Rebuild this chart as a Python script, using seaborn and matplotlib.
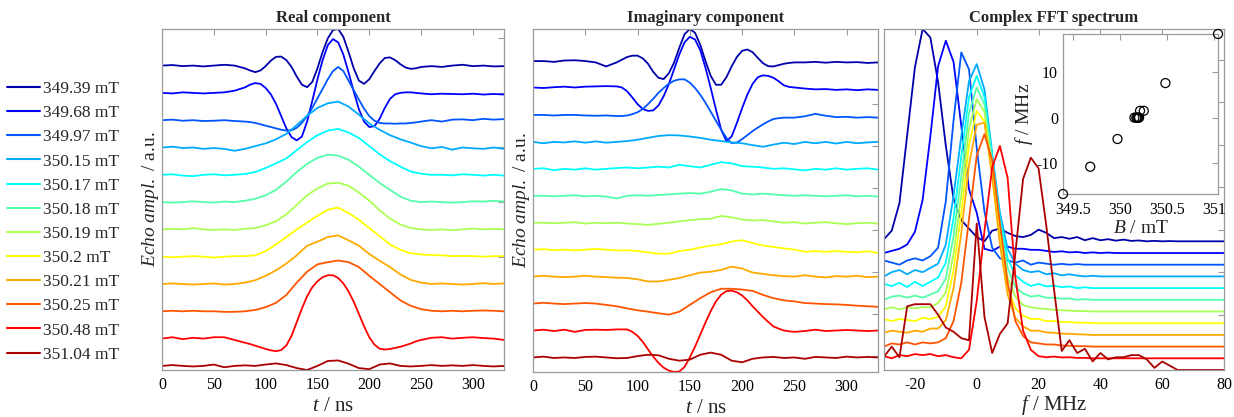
import numpy as np
import pandas as pd
import matplotlib
matplotlib.use("Agg")
import matplotlib.pyplot as plt
import seaborn as sns
from matplotlib.lines import Line2D

# ---------------- data ----------------
field_labels = ["349.39 mT", "349.68 mT", "349.97 mT", "350.15 mT", "350.17 mT", "350.18 mT",
                "350.19 mT", "350.2 mT", "350.21 mT", "350.25 mT", "350.48 mT", "351.04 mT"]
field_mT = [349.39, 349.68, 349.97, 350.15, 350.17, 350.18, 350.19, 350.2, 350.21, 350.25, 350.48, 351.04]
peak_f_MHz = [-16.8, -10.8, -4.7, 0.0, 0.0, 0.0, 0.0, 0.0, 1.5, 1.5, 7.6, 18.4]

# time axis (coarse, 10 ns) and a finer axis read around the echo for the fast-oscillating traces
t_ns = [0, 10, 20, 30, 40, 50, 60, 70, 80, 90, 100, 110, 120, 130, 140, 150, 160,
        170, 180, 190, 200, 210, 220, 230, 240, 250, 260, 270, 280, 290, 300, 310, 320, 330]
t_fine_ns = [0, 10, 20, 30, 40, 50, 60, 70,
             80, 85, 90, 95, 100, 105, 110, 115, 120, 125, 130, 135, 140, 145, 150, 155, 160, 165,
             170, 175, 180, 185, 190, 195, 200, 205, 210, 215, 220, 225, 230, 235, 240, 245, 250,
             260, 270, 280, 290, 300, 310, 320, 330]

real_349_39 = [0.0, 0.02, -0.02, 0.0, -0.03, 0.0, 0.03, 0.0,
               -0.1, -0.18, -0.24, -0.18, -0.02, 0.18, 0.32, 0.33, 0.2, -0.05, -0.4, -0.7, -0.79, -0.6, -0.1,
               0.5, 1.0, 1.3, 1.34, 1.05, 0.5, -0.1, -0.55, -0.67, -0.5, -0.2, 0.08, 0.28, 0.3, 0.2, 0.05,
               -0.07, -0.12, -0.1, -0.05,
               -0.02, -0.05, 0.0, 0.03, -0.02, 0.0, -0.03, -0.02]
real_349_68 = [0.0, -0.02, 0.02, 0.0, -0.02, 0.0, 0.02, 0.08,
               0.2, 0.3, 0.36, 0.33, 0.18, -0.05, -0.4, -0.85, -1.3, -1.62, -1.74, -1.6, -1.05, -0.3, 0.5,
               1.2, 1.75, 1.97, 1.85, 1.4, 0.75, 0.05, -0.6, -1.05, -1.25, -1.22, -0.95, -0.55, -0.22, -0.05,
               0.0, 0.02, 0.02, 0.0, -0.02,
               -0.05, -0.03, -0.04, -0.05, -0.03, -0.06, -0.04, -0.06]
real_349_97 = [0.0, 0.02, -0.02, 0.0, -0.03, -0.02, 0.0, -0.03,
               -0.05, -0.07, -0.1, -0.15, -0.2, -0.25, -0.3, -0.35, -0.38, -0.37, -0.28, -0.1, 0.15, 0.45,
               0.8, 1.15, 1.5, 1.8, 1.95, 1.8, 1.45, 1.1, 0.75, 0.42, 0.15, -0.02, -0.1, -0.12, -0.12,
               -0.13, -0.12, -0.12, -0.1, -0.08, -0.05,
               0.0, -0.05, 0.02, 0.03, 0.0, 0.05, 0.02, 0.04]
real_350_15 = [0.0, 0.03, -0.02, 0.0, -0.05, -0.02, -0.05, -0.12, -0.05, 0.05, 0.15, 0.3, 0.5, 0.82, 1.16, 1.45, 1.62,
               1.68, 1.5, 1.2, 0.88, 0.65, 0.45, 0.3, 0.18, 0.05, -0.03, 0.02, -0.08, 0.0, -0.03, -0.05, 0.0, -0.05]
real_350_17 = [0.0, 0.02, -0.03, -0.05, 0.0, 0.02, -0.02, 0.0, 0.03, 0.1, 0.25, 0.42, 0.6, 0.9, 1.2, 1.45, 1.62,
               1.68, 1.55, 1.35, 1.05, 0.75, 0.5, 0.3, 0.12, 0.04, 0.0, 0.0, -0.02, 0.02, 0.0, -0.03, 0.0, -0.03]
real_350_18 = [0.0, -0.02, 0.0, 0.03, 0.0, -0.02, 0.02, 0.0, 0.05, 0.12, 0.25, 0.45, 0.75, 1.1, 1.4, 1.62, 1.74,
               1.7, 1.55, 1.3, 1.0, 0.7, 0.45, 0.2, 0.05, 0.0, 0.02, 0.0, -0.02, 0.0, 0.03, 0.02, 0.05, 0.02]
real_350_19 = [0.0, 0.02, 0.0, 0.05, 0.0, -0.02, 0.0, -0.02, 0.02, 0.05, 0.15, 0.3, 0.55, 0.9, 1.25, 1.5, 1.68,
               1.71, 1.6, 1.35, 1.05, 0.7, 0.4, 0.18, 0.05, 0.0, -0.02, 0.0, -0.03, 0.0, 0.03, 0.0, 0.02, 0.0]
real_350_20 = [0.0, -0.02, 0.0, 0.02, 0.0, -0.03, 0.0, 0.02, 0.02, 0.05, 0.2, 0.45, 0.72, 1.0, 1.25, 1.5, 1.72,
               1.8, 1.6, 1.35, 1.05, 0.75, 0.45, 0.25, 0.13, 0.08, 0.06, 0.05, 0.02, 0.03, 0.02, 0.0, 0.02, 0.02]
real_350_21 = [0.0, 0.02, 0.0, -0.02, 0.0, 0.02, -0.02, 0.0, 0.05, 0.14, 0.3, 0.5, 0.75, 1.05, 1.4, 1.55, 1.72,
               1.78, 1.6, 1.4, 1.1, 0.85, 0.62, 0.35, 0.15, 0.05, 0.0, 0.02, 0.0, -0.02, 0.0, 0.03, 0.0, 0.02]
real_350_25 = [0.0, 0.02, 0.0, 0.02, 0.0, 0.0, -0.02, -0.02, 0.0, 0.05, 0.15, 0.31, 0.6, 1.05, 1.45, 1.72, 1.8,
               1.86, 1.8, 1.62, 1.3, 1.0, 0.7, 0.4, 0.2, 0.08, 0.02, 0.0, 0.02, 0.0, 0.02, 0.03, 0.02, 0.0]
real_350_48 = [0.0, 0.05, -0.02, 0.03, 0.0, 0.05, 0.05, -0.05,
               -0.15, -0.2, -0.26, -0.32, -0.38, -0.43, -0.46, -0.42, -0.25, 0.1, 0.6, 1.1, 1.55, 1.88, 2.1,
               2.25, 2.32, 2.32, 2.22, 2.02, 1.73, 1.35, 0.9, 0.45, 0.05, -0.22, -0.37, -0.4, -0.38, -0.34,
               -0.3, -0.24, -0.18, -0.1, -0.05,
               0.03, 0.05, 0.0, 0.03, 0.05, 0.02, 0.0, -0.05]
real_351_04 = [0.0, 0.03, 0.0, -0.02, 0.0, 0.05, -0.05, 0.0, 0.02, 0.0, 0.05, 0.09, 0.03, -0.08, -0.15, 0.0, 0.18,
               0.2, 0.08, -0.08, -0.12, 0.05, 0.09, 0.0, -0.02, 0.0, 0.03, 0.0, 0.02, 0.0, 0.03, 0.0, -0.02, 0.0]

imag_349_39 = [0.0, 0.0, -0.03, 0.02, 0.03, 0.0, -0.05, -0.2,
               -0.05, 0.05, 0.15, 0.2, 0.2, 0.1, -0.1, -0.4, -0.62, -0.67, -0.45, -0.05, 0.5, 1.0, 1.19,
               1.05, 0.6, 0.0, -0.55, -0.88, -0.88, -0.6, -0.2, 0.15, 0.38, 0.43, 0.33, 0.12, -0.08, -0.19,
               -0.2, -0.15, -0.1, -0.07, -0.05,
               -0.05, -0.03, -0.06, -0.03, -0.05, -0.04, -0.07, -0.05]
imag_349_68 = [0.02, 0.0, 0.03, 0.05, 0.02, 0.05, 0.06, 0.07,
               0.06, 0.02, -0.12, -0.35, -0.6, -0.78, -0.85, -0.83, -0.65, -0.3, 0.15, 0.7, 1.25, 1.7, 1.9,
               1.8, 1.4, 0.75, 0.0, -0.8, -1.55, -1.97, -1.8, -1.3, -0.75, -0.25, 0.15, 0.4, 0.47, 0.45,
               0.38, 0.25, 0.1, 0.04, 0.02,
               -0.02, -0.05, -0.04, -0.07, -0.05, -0.08, -0.05, -0.07]
imag_349_97 = [0.0, 0.0, -0.02, 0.0, 0.0, -0.02, -0.03, -0.02,
               -0.04, -0.04, -0.02, 0.03, 0.1, 0.22, 0.4, 0.6, 0.82, 1.0, 1.16, 1.27, 1.32, 1.32, 1.2,
               1.0, 0.75, 0.45, 0.12, -0.22, -0.55, -0.85, -1.05, -1.02, -0.9, -0.75, -0.6, -0.47, -0.35,
               -0.24, -0.15, -0.12, -0.1, -0.1, -0.1,
               -0.05, 0.04, -0.03, -0.08, -0.07, -0.1, -0.08, -0.1]
imag_350_15 = [0.0, -0.05, 0.0, -0.02, 0.02, -0.03, 0.02, -0.03, 0.0, 0.03, 0.08, 0.15, 0.22, 0.25, 0.24, 0.2, 0.15,
               0.08, 0.03, -0.02, -0.05, -0.12, -0.18, -0.1, -0.03, -0.08, 0.0, -0.05, 0.0, -0.06, 0.0, -0.05, -0.02, 0.0]
imag_350_17 = [0.0, 0.02, -0.05, 0.0, -0.03, 0.02, -0.03, 0.0, 0.03, 0.05, 0.02, 0.05, 0.08, 0.05, 0.15, 0.1, 0.05,
               0.15, 0.25, 0.2, 0.1, 0.08, 0.05, 0.0, 0.02, -0.02, -0.06, 0.0, -0.03, 0.02, -0.03, 0.0, 0.02, -0.03]
imag_350_18 = [0.0, 0.0, -0.02, 0.0, 0.02, -0.02, 0.0, -0.03, -0.1, 0.0, 0.02, 0.0, 0.03, 0.05, 0.08, 0.1, 0.08,
               0.15, 0.25, 0.2, 0.08, 0.05, 0.08, 0.05, 0.02, 0.0, 0.02, 0.0, -0.02, 0.0, 0.02, -0.02, 0.0, -0.03]
imag_350_19 = [0.0, 0.0, -0.02, 0.0, 0.02, -0.03, 0.0, -0.02, 0.0, -0.03, -0.05, -0.08, -0.04, 0.0, 0.05, 0.1, 0.13,
               0.15, 0.25, 0.2, 0.12, 0.08, 0.1, 0.05, 0.0, 0.02, -0.03, 0.0, 0.02, -0.02, -0.05, -0.02, 0.0, -0.03]
imag_350_20 = [0.0, 0.02, -0.02, 0.0, -0.03, 0.0, 0.03, 0.0, -0.03, -0.02, -0.05, -0.1, -0.15, -0.15, -0.05, 0.0, 0.08,
               0.15, 0.2, 0.3, 0.35, 0.25, 0.15, 0.1, 0.05, 0.0, -0.08, -0.05, -0.08, -0.05, -0.08, -0.1, -0.06, -0.12]
imag_350_21 = [0.0, 0.03, 0.0, -0.02, 0.0, 0.03, 0.0, -0.02, -0.04, -0.05, -0.1, -0.18, -0.18, -0.12, -0.05, 0.05, 0.15,
               0.18, 0.25, 0.37, 0.3, 0.15, 0.1, 0.05, 0.02, 0.0, 0.05, 0.0, -0.03, 0.02, 0.0, 0.03, -0.02, 0.0]
imag_350_25 = [0.0, 0.03, 0.0, -0.02, 0.0, 0.02, 0.0, -0.05, -0.1, -0.18, -0.25, -0.3, -0.36, -0.41, -0.3, -0.05, 0.2,
               0.42, 0.55, 0.55, 0.52, 0.47, 0.32, 0.2, 0.12, 0.08, 0.02, 0.0, -0.02, -0.03, -0.05, -0.08, -0.1, -0.12]
imag_350_48 = [0.0, 0.03, -0.02, 0.03, -0.05, 0.02, 0.03, 0.02,
               0.04, 0.04, 0.04, -0.05, -0.2, -0.42, -0.7, -0.97, -1.2, -1.38, -1.49, -1.54, -1.52, -1.35, -1.0,
               -0.6, -0.15, 0.3, 0.72, 1.08, 1.33, 1.46, 1.48, 1.42, 1.3, 1.12, 0.9, 0.7, 0.5, 0.32,
               0.15, 0.07, 0.0, -0.03, -0.05,
               -0.02, 0.03, -0.02, 0.0, 0.02, 0.0, -0.02, 0.0]
imag_351_04 = [0.0, 0.03, -0.02, 0.0, -0.02, 0.02, 0.03, 0.0, -0.03, -0.02, 0.05, 0.1, 0.08, -0.05, -0.12, -0.08, 0.1,
               0.18, 0.1, -0.12, -0.18, -0.05, 0.0, 0.02, -0.02, 0.0, -0.05, 0.02, 0.0, -0.02, 0.03, 0.0, 0.02, 0.0]

f_MHz = [-30, -27.5, -25, -22.5, -20, -17.5, -15, -12.5, -10, -7.5, -5, -2.5, 0, 2.5, 5, 7.5, 10, 12.5, 15, 17.5,
         20, 22.5, 25, 27.5, 30, 32.5, 35, 37.5, 40, 42.5, 45, 47.5, 50, 52.5, 55, 57.5, 60, 62.5, 65, 67.5, 70,
         72.5, 75, 77.5, 80]

spec_349_39 = [0.01, 0.05, 0.18, 0.5, 0.82, 1.0, 0.96, 0.75, 0.45, 0.2, 0.1, 0.06, 0.02, 0.0, 0.05, 0.06, 0.04, 0.025,
               0.02, 0.03, 0.055, 0.04, 0.015, 0.02, 0.012, 0.02, 0.005, 0.015, 0.005, 0.01, 0.003, 0.008, 0.002, 0.004,
               0.0, 0.002, 0.0, 0.001, 0.0, 0.0, 0.0, 0.0, 0.0, 0.0, 0.0]
spec_349_68 = [0.0, 0.01, 0.02, 0.04, 0.1, 0.25, 0.55, 0.88, 1.0, 0.9, 0.6, 0.3, 0.19, 0.02, 0.01, 0.03, 0.03, 0.02,
               0.02, 0.015, 0.015, 0.01, 0.005, 0.008, 0.003, 0.005, 0.0, 0.003, 0.0, 0.002, 0.0, 0.0, 0.0, 0.0,
               0.0, 0.0, 0.0, 0.0, 0.0, 0.0, 0.0, 0.0, 0.0, 0.0, 0.0]
spec_349_97 = [0.02, 0.01, 0.0, 0.02, 0.03, 0.02, 0.04, 0.08, 0.3, 0.68, 1.0, 0.92, 0.55, 0.25, 0.08, 0.03, 0.02, 0.01,
               0.02, 0.0, 0.01, 0.005, 0.0, 0.004, 0.0, 0.003, 0.0, 0.0, 0.0, 0.0, 0.0, 0.0, 0.0, 0.0,
               0.0, 0.0, 0.0, 0.0, 0.0, 0.0, 0.0, 0.0, 0.0, 0.0, 0.0]
spec_350_15 = [0.0, 0.02, 0.03, 0.01, 0.03, 0.02, 0.04, 0.06, 0.15, 0.38, 0.66, 0.92, 1.0, 0.88, 0.58, 0.3, 0.13, 0.06,
               0.03, 0.02, 0.025, 0.01, 0.015, 0.005, 0.01, 0.004, 0.0, 0.003, 0.0, 0.0, 0.0, 0.0, 0.0, 0.0,
               0.0, 0.0, 0.0, 0.0, 0.0, 0.0, 0.0, 0.0, 0.0, 0.0, 0.0]
spec_350_17 = [0.02, 0.01, 0.025, 0.005, 0.03, 0.01, 0.03, 0.05, 0.12, 0.33, 0.62, 0.9, 1.0, 0.9, 0.62, 0.33, 0.14, 0.06,
               0.03, 0.01, 0.02, 0.008, 0.012, 0.004, 0.008, 0.0, 0.004, 0.0, 0.0, 0.0, 0.0, 0.0, 0.0, 0.0,
               0.0, 0.0, 0.0, 0.0, 0.0, 0.0, 0.0, 0.0, 0.0, 0.0, 0.0]
spec_350_18 = [0.0, 0.015, 0.02, 0.01, 0.02, 0.01, 0.025, 0.04, 0.1, 0.3, 0.58, 0.88, 1.0, 0.92, 0.65, 0.35, 0.15, 0.06,
               0.03, 0.015, 0.02, 0.01, 0.01, 0.005, 0.006, 0.0, 0.003, 0.0, 0.0, 0.0, 0.0, 0.0, 0.0, 0.0,
               0.0, 0.0, 0.0, 0.0, 0.0, 0.0, 0.0, 0.0, 0.0, 0.0, 0.0]
spec_350_19 = [0.01, 0.02, 0.01, 0.02, 0.015, 0.02, 0.02, 0.04, 0.09, 0.27, 0.55, 0.86, 1.0, 0.94, 0.68, 0.37, 0.16, 0.07,
               0.03, 0.02, 0.015, 0.012, 0.008, 0.006, 0.004, 0.002, 0.002, 0.0, 0.0, 0.0, 0.0, 0.0, 0.0, 0.0,
               0.0, 0.0, 0.0, 0.0, 0.0, 0.0, 0.0, 0.0, 0.0, 0.0, 0.0]
spec_350_20 = [0.02, 0.01, 0.02, 0.015, 0.01, 0.025, 0.02, 0.03, 0.08, 0.25, 0.52, 0.84, 1.0, 0.95, 0.7, 0.4, 0.17, 0.07,
               0.035, 0.02, 0.02, 0.01, 0.01, 0.005, 0.006, 0.002, 0.003, 0.0, 0.0, 0.0, 0.0, 0.0, 0.0, 0.0,
               0.0, 0.0, 0.0, 0.0, 0.0, 0.0, 0.0, 0.0, 0.0, 0.0, 0.0]
spec_350_21 = [0.01, 0.02, 0.015, 0.01, 0.02, 0.015, 0.03, 0.03, 0.07, 0.22, 0.48, 0.8, 0.99, 1.0, 0.75, 0.43, 0.19, 0.08,
               0.04, 0.02, 0.02, 0.012, 0.01, 0.006, 0.005, 0.003, 0.002, 0.0, 0.0, 0.0, 0.0, 0.0, 0.0, 0.0,
               0.0, 0.0, 0.0, 0.0, 0.0, 0.0, 0.0, 0.0, 0.0, 0.0, 0.0]
spec_350_25 = [0.0, 0.015, 0.01, 0.02, 0.01, 0.02, 0.015, 0.02, 0.04, 0.12, 0.3, 0.6, 0.9, 1.0, 0.88, 0.58, 0.3, 0.12,
               0.05, 0.02, 0.015, 0.01, 0.01, 0.005, 0.004, 0.002, 0.002, 0.0, 0.0, 0.0, 0.0, 0.0, 0.0, 0.0,
               0.0, 0.0, 0.0, 0.0, 0.0, 0.0, 0.0, 0.0, 0.0, 0.0, 0.0]
spec_350_48 = [0.01, 0.0, 0.015, 0.01, 0.02, 0.015, 0.02, 0.01, 0.015, 0.005, 0.0, 0.04, 0.27, 0.6, 0.9, 1.0, 0.85, 0.38,
               0.13, 0.04, 0.01, 0.005, 0.008, 0.004, 0.005, 0.002, 0.002, 0.0, 0.0, 0.0, 0.0, 0.0, 0.0, 0.0,
               0.0, 0.0, 0.0, 0.0, 0.0, 0.0, 0.0, 0.0, 0.0, 0.0, 0.0]
spec_351_04 = [0.063, 0.11, 0.06, 0.3, 0.31, 0.31, 0.31, 0.26, 0.2, 0.18, 0.15, 0.14, 0.69, 0.25, 0.08, 0.17, 0.22, 0.55,
               0.9, 1.0, 0.95, 0.68, 0.38, 0.09, 0.14, 0.08, 0.1, 0.04, 0.08, 0.05, 0.06, 0.06, 0.07, 0.07,
               0.05, 0.01, 0.04, 0.02, 0.0, 0.0, 0.0, 0.0, 0.0, 0.0, 0.0]

real_traces = [(t_fine_ns, real_349_39), (t_fine_ns, real_349_68), (t_fine_ns, real_349_97),
               (t_ns, real_350_15), (t_ns, real_350_17), (t_ns, real_350_18), (t_ns, real_350_19),
               (t_ns, real_350_20), (t_ns, real_350_21), (t_ns, real_350_25),
               (t_fine_ns, real_350_48), (t_ns, real_351_04)]
imag_traces = [(t_fine_ns, imag_349_39), (t_fine_ns, imag_349_68), (t_fine_ns, imag_349_97),
               (t_ns, imag_350_15), (t_ns, imag_350_17), (t_ns, imag_350_18), (t_ns, imag_350_19),
               (t_ns, imag_350_20), (t_ns, imag_350_21), (t_ns, imag_350_25),
               (t_fine_ns, imag_350_48), (t_ns, imag_351_04)]
spec_traces = [(f_MHz, s) for s in [spec_349_39, spec_349_68, spec_349_97, spec_350_15, spec_350_17, spec_350_18,
                                    spec_350_19, spec_350_20, spec_350_21, spec_350_25, spec_350_48, spec_351_04]]

# ---------------- style ----------------
jet12 = [(0, 0, 0.6667), (0, 0, 1), (0, 0.3333, 1), (0, 0.6667, 1), (0, 1, 1), (0.3333, 1, 0.6667),
         (0.6667, 1, 0.3333), (1, 1, 0), (1, 0.6667, 0), (1, 0.3333, 0), (1, 0, 0), (0.6667, 0, 0)]

sns.set_style("white")
plt.rcParams.update({
    "font.family": ["Liberation Serif", "DejaVu Serif"],
    "mathtext.fontset": "custom",
    "mathtext.rm": "Liberation Serif",
    "mathtext.it": "Liberation Serif:italic",
    "mathtext.bf": "Liberation Serif:bold",
    "axes.unicode_minus": False,
    "axes.edgecolor": "#9a9a9a",
    "axes.linewidth": 0.9,
})

W, H = 1234, 417


def stacked(traces, xname, spacing):
    rows = []
    n = len(traces)
    for i, (lab, (xs, ys)) in enumerate(zip(field_labels, traces)):
        off = (n - 1 - i) * spacing
        for xv, yv in zip(xs, ys):
            rows.append((lab, xv, yv + off))
    return pd.DataFrame(rows, columns=["field", xname, "y"])


df_real = stacked(real_traces, "t", 1.0)
df_imag = stacked(imag_traces, "t", 1.0)
df_spec = stacked(spec_traces, "f", 0.0551)
df_peak = pd.DataFrame({"B": field_mT, "f": peak_f_MHz})

fig = plt.figure(figsize=(W / 100, H / 100), dpi=100)
ax1 = fig.add_axes([162 / W, 1 - 370 / H, 342 / W, 341 / H])
ax2 = fig.add_axes([533 / W, 1 - 372 / H, 345 / W, 343 / H])
ax3 = fig.add_axes([884 / W, 1 - 370 / H, 340 / W, 341 / H])

tick_kw = dict(direction="in", length=4, width=0.8, color="#9a9a9a", labelsize=11.5,
               top=True, right=True, labelcolor="black")

for ax, df, xname, title in [(ax1, df_real, "t", "Real component"),
                             (ax2, df_imag, "t", "Imaginary component"),
                             (ax3, df_spec, "f", "Complex FFT spectrum")]:
    sns.lineplot(data=df, x=xname, y="y", hue="field", hue_order=field_labels, palette=jet12,
                 estimator=None, sort=False, legend=False, lw=1.3, ax=ax)
    ax.set_title(title, fontsize=12, fontweight="bold", pad=5)
    ax.tick_params(axis="both", **tick_kw)
    ax.tick_params(axis="x", pad=5)
    ax.tick_params(axis="y", labelleft=False)
    ax.margins(x=0, y=0)
    for s in ax.spines.values():
        s.set_visible(True)

ax1.set_xlim(0, 330)
ax2.set_xlim(0, 330)
ax3.set_xlim(-30, 80)
for ax in (ax1, ax2):
    ax.set_xticks([0, 50, 100, 150, 200, 250, 300])
    ax.set_xlabel(r"$t$ / ns", fontsize=15, labelpad=3)
    ax.set_ylabel(r"$Echo\ ampl.$ / a.u.", fontsize=14, labelpad=1)
ax3.set_xticks([-20, 0, 20, 40, 60, 80])
ax3.set_xlabel(r"$f$ / MHz", fontsize=15, labelpad=0)
ax3.set_ylabel("")

ax1.set_yticks(np.arange(0, 12.5, 2.0))
ax2.set_yticks(np.arange(0.05, 12.3, 1.56))
ax3.set_yticks(np.arange(0.26, 1.6, 0.2))

# inset
axi = fig.add_axes([1063 / W, 1 - 194 / H, 155 / W, 160 / H])
axi.set_facecolor("white")
sns.scatterplot(data=df_peak, x="B", y="f", marker="o", s=42, facecolors="none",
                edgecolor="black", linewidth=0.9, ax=axi, clip_on=False, zorder=5)
axi.set_xlim(min(field_mT), max(field_mT))
axi.set_ylim(min(peak_f_MHz), max(peak_f_MHz))
axi.set_xticks([349.5, 350, 350.5, 351])
axi.set_xticklabels(["349.5", "350", "350.5", "351"])
axi.set_yticks([-10, 0, 10])
axi.tick_params(axis="both", **tick_kw)
axi.tick_params(axis="x", pad=6)
axi.set_xlabel(r"$B$ / mT", fontsize=14, labelpad=1)
axi.set_ylabel(r"$f$ / MHz", fontsize=14, labelpad=1)
for s in axi.spines.values():
    s.set_visible(True)

# legend
handles = [Line2D([0], [0], color=c, lw=1.5) for c in jet12]
fig.legend(handles, field_labels, loc="upper left", bbox_to_anchor=(0.006, 1 - 81 / H),
           frameon=False, fontsize=12.5, handlelength=1.9, handletextpad=0.15,
           labelspacing=0.46, borderpad=0, borderaxespad=0)

fig.savefig("out.png", dpi=100)
